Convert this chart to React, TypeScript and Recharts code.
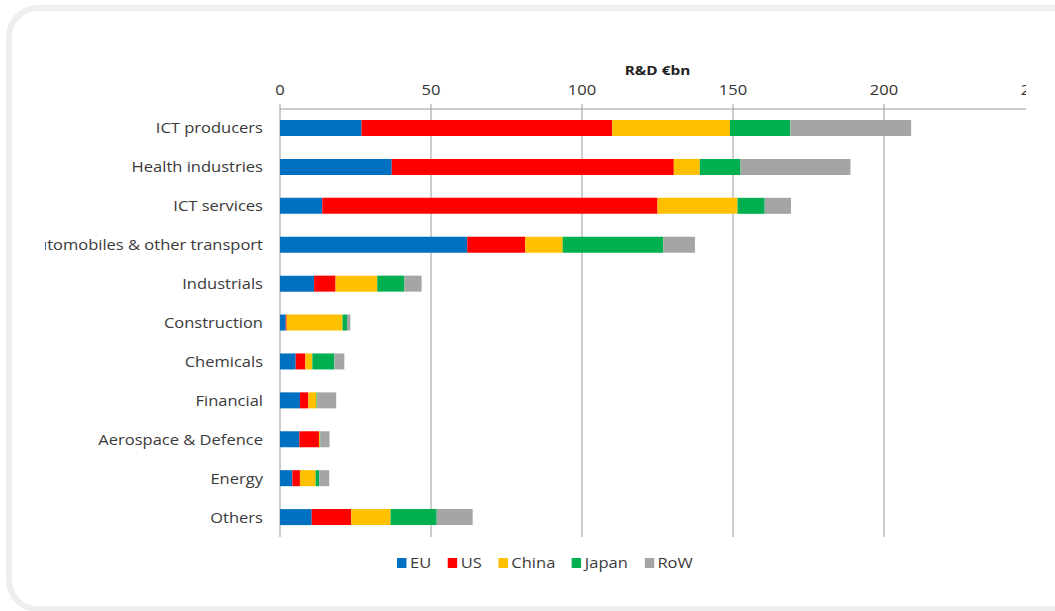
import React from "react"
import { BarChart, Bar, XAxis, YAxis, CartesianGrid, Label } from "recharts"

// sectors, top to bottom
const sectors = [
  "ICT producers",
  "Health industries",
  "ICT services",
  "Automobiles & other transport",
  "Industrials",
  "Construction",
  "Chemicals",
  "Financial",
  "Aerospace & Defence",
  "Energy",
  "Others"
]

// R&D in €bn per region, same order as sectors
const eu = [27, 37, 14, 62, 11.3, 1.9, 5.2, 6.6, 6.4, 4.1, 10.5]
const us = [83, 93.4, 111, 19.2, 7.1, 0.3, 3.2, 2.8, 6.5, 2.5, 13.1]
const china = [39, 8.6, 26.5, 12.4, 13.8, 18.5, 2.3, 2.7, 0.3, 5.2, 13]
const japan = [20, 13.5, 9, 33.3, 9, 1.5, 7.3, 0.2, 0.2, 1.2, 15.3]
const row = [40, 36.4, 8.7, 10.5, 5.7, 1.1, 3.3, 6.3, 3, 3.3, 11.9]

const xTicks = [0, 50, 100, 150, 200, 250]
const axisTitle = "R&D €bn"

const series = [
  { key: "EU", values: eu, color: "#0070C0" },
  { key: "US", values: us, color: "#FF0000" },
  { key: "China", values: china, color: "#FFC000" },
  { key: "Japan", values: japan, color: "#00B050" },
  { key: "RoW", values: row, color: "#A5A5A5" }
]

const data = sectors.map((name, i) => {
  const d: Record<string, number | string> = { name, slot: i + 0.5 }
  series.forEach(s => (d[s.key] = s.values[i]))
  return d
})

// boundaries between categories, for the excel-style tick marks
const boundaries = sectors.map((_, i) => i).concat(sectors.length)

// the source picture is a bit stretched horizontally
const STRETCH = 1.18

const stretch = (x: number, y: number) =>
  `translate(${x},${y}) scale(${STRETCH},1) translate(${-x},${-y})`

const CategoryTick = (props: any) => {
  const { x, y, payload } = props
  return (
    <text x={x} y={y} dy="0.355em" textAnchor="end" fill="#3a3a3a" fontSize={14} transform={stretch(x, y)}>
      {payload.value}
    </text>
  )
}

const ValueTick = (props: any) => {
  const { x, y, payload } = props
  return (
    <text x={x} y={y} textAnchor="middle" fill="#333" fontSize={14} transform={stretch(x, y)}>
      {payload.value}
    </text>
  )
}

const renderTitle = (props: any) => {
  const vb = props.viewBox
  const cx = vb.x + vb.width / 2
  const y = vb.y - 4
  return (
    <text x={cx} y={y} textAnchor="middle" fill="#222" fontSize={13} fontWeight="bold" transform={stretch(cx, y)}>
      {axisTitle}
    </text>
  )
}

export default function App() {
  return (
    <div
      style={{
        position: "absolute",
        left: 0,
        top: 0,
        width: 1055,
        height: 611,
        overflow: "hidden",
        background: "#fff",
        fontFamily: "'Open Sans', sans-serif"
      }}
    >
      {/* rounded card frame */}
      <div
        style={{
          position: "absolute",
          left: 6,
          top: 5,
          width: 1080,
          height: 607,
          boxSizing: "border-box",
          border: "6px solid #eeeeee",
          borderRadius: 32
        }}
      />

      {/* clipped chart picture */}
      <div
        style={{
          position: "absolute",
          left: 45,
          top: 0,
          width: 981,
          height: 611,
          overflow: "hidden"
        }}
      >
        <div style={{ position: "absolute", left: -45, top: 0 }}>
          <BarChart
            width={1100}
            height={611}
            data={data}
            layout="vertical"
            margin={{ top: 79, right: 65, left: 45, bottom: 74 }}
          >
            <CartesianGrid horizontal={false} stroke="#9a9a9a" />
            <XAxis
              type="number"
              orientation="top"
              domain={[0, 250]}
              ticks={xTicks}
              height={30}
              stroke="#9a9a9a"
              tickSize={5}
              tickMargin={9}
              tick={<ValueTick />}
            >
              <Label content={renderTitle} />
            </XAxis>
            <YAxis
              yAxisId="edge"
              type="number"
              dataKey="slot"
              domain={[0, sectors.length]}
              ticks={boundaries}
              width={0}
              tick={false}
              tickSize={5}
              stroke="#9a9a9a"
            />
            <YAxis
              yAxisId="cat"
              type="category"
              dataKey="name"
              width={235}
              axisLine={false}
              tickLine={false}
              tickMargin={11}
              tick={<CategoryTick />}
              interval={0}
            />
            {series.map(s => (
              <Bar
                key={s.key}
                yAxisId="cat"
                dataKey={s.key}
                stackId="a"
                fill={s.color}
                barSize={16}
                isAnimationActive={false}
              />
            ))}
          </BarChart>
        </div>
      </div>

      {/* legend */}
      <div
        style={{
          position: "absolute",
          left: 397,
          top: 553,
          display: "flex",
          alignItems: "center",
          fontSize: 14,
          color: "#3a3a3a",
          transform: `scaleX(${STRETCH})`,
          transformOrigin: "left center",
          whiteSpace: "nowrap"
        }}
      >
        {series.map(s => (
          <div key={s.key} style={{ display: "flex", alignItems: "center", marginRight: 14 }}>
            <span style={{ width: 8, height: 10, background: s.color, marginRight: 3, display: "inline-block" }} />
            <span>{s.key}</span>
          </div>
        ))}
      </div>
    </div>
  )
}
